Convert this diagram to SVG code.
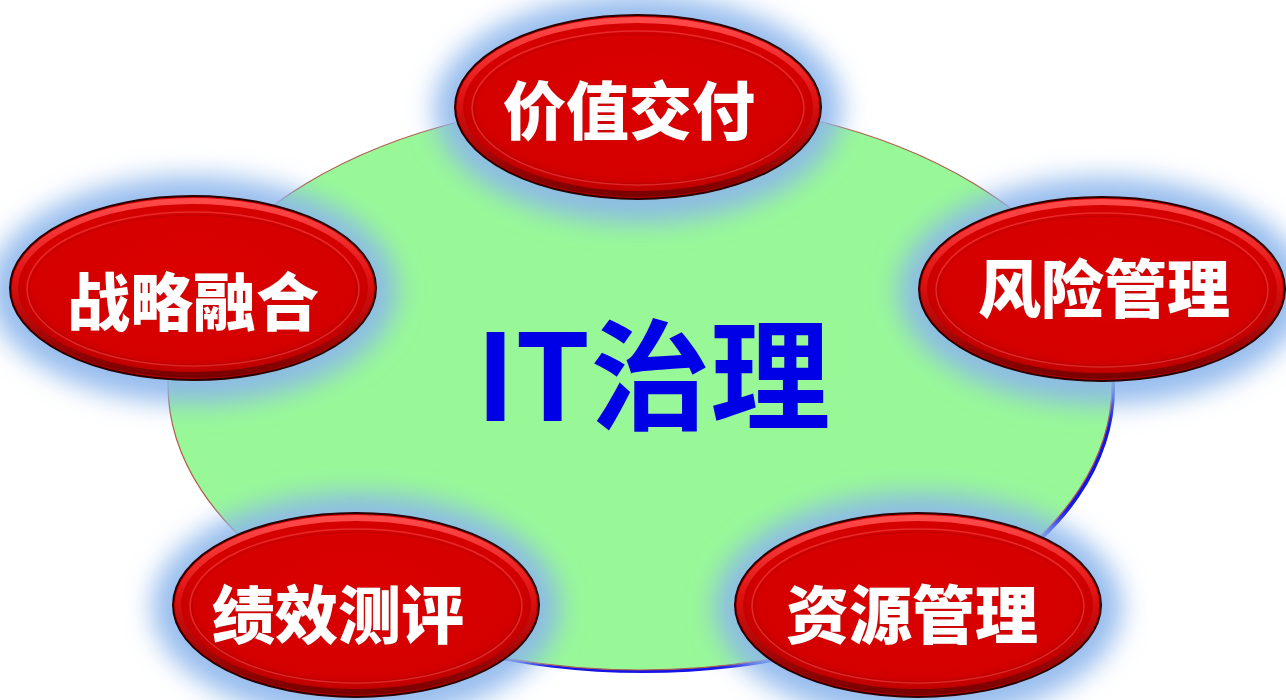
<svg xmlns="http://www.w3.org/2000/svg" xmlns:xlink="http://www.w3.org/1999/xlink" width="1286" height="700" viewBox="0 0 1286 700">
<defs>
<filter id="glow" x="-30%" y="-50%" width="160%" height="200%"><feGaussianBlur stdDeviation="13"/></filter>
<radialGradient id="redFill" cx="50%" cy="45%" r="55%">
<stop offset="0" stop-color="#dc0000"/>
<stop offset="0.8" stop-color="#d40000"/>
<stop offset="1" stop-color="#b00000"/>
</radialGradient>
<linearGradient id="rim" x1="0" y1="0" x2="0" y2="1">
<stop offset="0" stop-color="#ff4a4a"/>
<stop offset="0.45" stop-color="#e01010"/>
<stop offset="1" stop-color="#7a0000"/>
</linearGradient>
<g id="btn">
<ellipse cx="0" cy="0" rx="183" ry="92" fill="url(#redFill)" stroke="#2a0000" stroke-width="2"/>
<ellipse cx="0" cy="0" rx="178" ry="87" fill="none" stroke="url(#rim)" stroke-width="6"/>
<ellipse cx="0" cy="1" rx="166" ry="77" fill="none" stroke="#ff5a5a" stroke-opacity="0.45" stroke-width="1.5"/>
<ellipse cx="0" cy="2" rx="164" ry="75" fill="none" stroke="#900000" stroke-opacity="0.35" stroke-width="1"/>
</g>
<g id="halo">
<ellipse cx="0" cy="2" rx="204" ry="114" fill="#8cb6ec" fill-opacity="0.9" filter="url(#glow)"/>
</g>
</defs>
<style>
.lbl{font-family:"Noto Sans CJK SC","Noto Sans",sans-serif;font-weight:900;font-size:63px;fill:#ffffff;stroke:#c01010;stroke-width:1.2px;paint-order:stroke;text-anchor:middle}
.title{font-family:"Noto Sans CJK SC","Noto Sans",sans-serif;font-weight:700;font-size:120px;fill:#0000e6;text-anchor:middle}
</style>
<rect width="1286" height="700" fill="#ffffff"/>
<g id="center">
<ellipse cx="643" cy="388" rx="472" ry="285" fill="#1414e8"/>
<ellipse cx="640" cy="385" rx="472" ry="285" fill="#98f898" stroke="#b05a4a" stroke-width="1.2"/>
<text class="title" x="653" y="421">IT治理</text>
</g>
<g id="halos">
<use xlink:href="#halo" transform="translate(638,107)"/>
<use xlink:href="#halo" transform="translate(193,288)"/>
<use xlink:href="#halo" transform="translate(1102,289)"/>
<use xlink:href="#halo" transform="translate(356,605)"/>
<use xlink:href="#halo" transform="translate(918,605)"/>
</g>
<g id="connectors"></g>
<g id="node-value">
<use xlink:href="#btn" transform="translate(638,107)"/>
<text class="lbl" x="629" y="134">价值交付</text>
</g>
<g id="node-strategy">
<use xlink:href="#btn" transform="translate(193,288)"/>
<text class="lbl" x="193" y="325">战略融合</text>
</g>
<g id="node-risk">
<use xlink:href="#btn" transform="translate(1102,289)"/>
<text class="lbl" x="1104" y="312">风险管理</text>
</g>
<g id="node-performance">
<use xlink:href="#btn" transform="translate(356,605)"/>
<text class="lbl" x="338" y="638">绩效测评</text>
</g>
<g id="node-resource">
<use xlink:href="#btn" transform="translate(918,605)"/>
<text class="lbl" x="912" y="638">资源管理</text>
</g>
</svg>
